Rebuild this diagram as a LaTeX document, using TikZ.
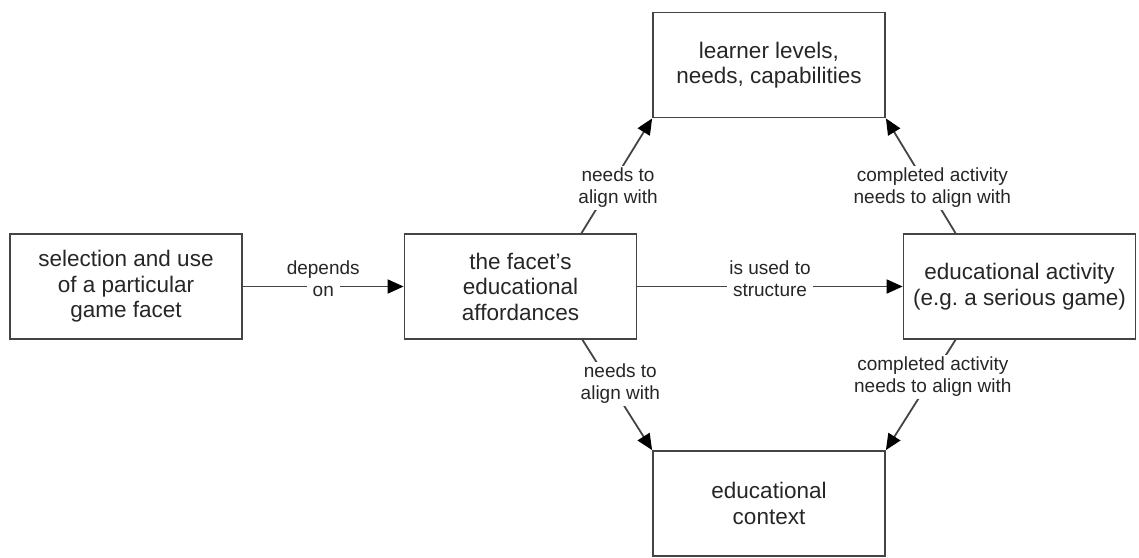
\documentclass[tikz,border=0pt]{standalone}
\usepackage{fontspec}
\setmainfont{Liberation Sans}
\usetikzlibrary{arrows.meta,calc}
\definecolor{ink}{HTML}{262626}
\definecolor{edge}{HTML}{444444}
% one line of a connector label on its own white strip, so the line is cut only where the words sit
\newcommand\wl[1]{{\setlength\fboxsep{0pt}\colorbox{white}{\hspace{6pt}\vrule height 15.5pt depth 6.5pt width 0pt\relax #1\hspace{6pt}}}}
\frenchspacing

\begin{document}
\begin{tikzpicture}[x=1pt,y=-1pt,
  box/.style={draw=edge, line width=1.8pt, minimum width=232, minimum height=105,
    inner sep=0pt, align=center, text=ink, font=\fontsize{22.5}{25.5}\selectfont},
  link/.style={draw=edge, line width=1.8pt,
    -{Triangle[length=16pt,width=14pt,color=black]}},
  tag/.style={inner sep=0pt, align=center, text=ink, font=\fontsize{19}{22}\selectfont},
]
\useasboundingbox (0,0) rectangle (1139,557);

\node[box] (A) at (126,286.5)   {selection and use\\of a particular\\game facet};
\node[box] (B) at (520.5,286.5) {the facet’s\\educational\\affordances};
\node[box] (C) at (1019.5,286.5){educational activity\\(e.g. a serious game)};
\node[box] (D) at (769,65)      {learner levels,\\needs, capabilities};
\node[box] (E) at (769,503.5)   {educational\\context};

\draw[link] (A) -- node[tag,yshift=6] (t1) {\wl{depends}\\\wl{on}} (B);
\draw[link] (B) -- node[tag,yshift=6] (t2) {\wl{is used to}\\\wl{structure}} (C);

\draw[link] ([xshift=61]B.north) -- node[tag,pos=0.39,xshift=9] (t3)
  {\wl{needs to}\\\wl{align with}} (D.south west);
\draw[link] ([xshift=62]B.south) -- node[tag,pos=0.40,xshift=10] (t4)
  {\wl{needs to}\\\wl{align with}} (E.north west);
\draw[link] ([xshift=-64]C.north) -- node[tag,pos=0.39,xshift=4] (t5)
  {\wl{completed activity}\\\wl{needs to align with}} (D.south east);
\draw[link] ([xshift=-64]C.south) -- node[tag,pos=0.34,xshift=1] (t6)
  {\wl{completed activity}\\\wl{needs to align with}} (E.north east);
\end{tikzpicture}
\end{document}
